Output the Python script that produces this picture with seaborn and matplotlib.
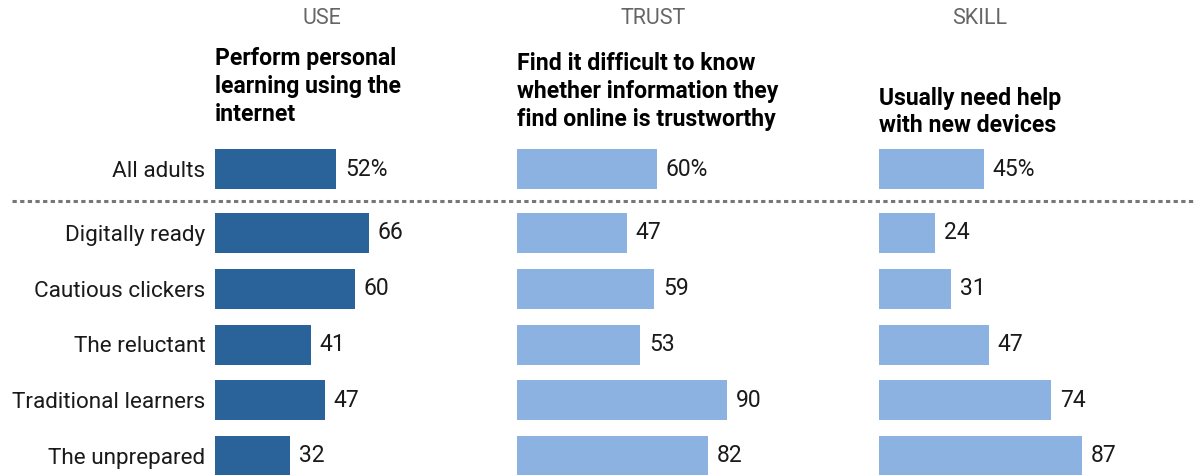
import matplotlib
matplotlib.use("Agg")
import matplotlib.pyplot as plt
import seaborn as sns
import pandas as pd

# ---- data ----
overall_label = "All adults"
groups = ["Digitally ready", "Cautious clickers", "The reluctant",
          "Traditional learners", "The unprepared"]
headers = ["USE", "TRUST", "SKILL"]
titles = ["Perform personal\nlearning using the\ninternet",
          "Find it difficult to know\nwhether information they\nfind online is trustworthy",
          "Usually need help\nwith new devices"]
overall_values = [52, 60, 45]
use_values = [66, 60, 41, 47, 32]
trust_values = [47, 59, 53, 90, 82]
skill_values = [24, 31, 47, 74, 87]
group_values = [use_values, trust_values, skill_values]
colors = ["#2a6399", "#8cb2e1", "#8cb2e1"]

# ---- layout (pixels) ----
W, H = 1197, 475
sns.set_theme(style="white")
plt.rcParams["font.family"] = ["Roboto", "DejaVu Sans"]
fig = plt.figure(figsize=(W / 100, H / 100), dpi=100)

px_per_unit = 2.33
panel_left = [215, 517, 879]
panel_width = 300
row_step = 55.75
bar_frac = 40 / row_step
overall_center = 169
group_first_center = 233
label_fs = 16.2
value_fs = 16.5
header_centers = [322, 653, 980]
title_tops = [47.5, 52.5, 86.5]


def ax_at(left, top, width, height):
    return fig.add_axes([left / W, 1 - (top + height) / H, width / W, height / H])


for i in range(3):
    left = panel_left[i]
    # overall row
    top_o = overall_center - row_step / 2
    ax_o = ax_at(left, top_o, panel_width, row_step)
    df_o = pd.DataFrame({"cat": [overall_label], "val": [overall_values[i]]})
    sns.barplot(data=df_o, x="val", y="cat", orient="h", color=colors[i],
                width=bar_frac, saturation=1, linewidth=0, ax=ax_o)
    # group rows
    top_g = group_first_center - row_step / 2
    ax_g = ax_at(left, top_g, panel_width, row_step * len(groups))
    df_g = pd.DataFrame({"cat": groups, "val": group_values[i]})
    sns.barplot(data=df_g, x="val", y="cat", orient="h", color=colors[i],
                width=bar_frac, saturation=1, linewidth=0, ax=ax_g)

    for ax, fmt in ((ax_o, "{:.0f}%"), (ax_g, "{:.0f}")):
        ax.set_xlim(0, panel_width / px_per_unit)
        for c in ax.containers:
            ax.bar_label(c, labels=[fmt.format(v) for v in c.datavalues],
                         padding=6.5, fontsize=value_fs, color="#1a1a1a")
        ax.set_xlabel("")
        ax.set_ylabel("")
        ax.set_xticks([])
        sns.despine(ax=ax, left=True, bottom=True)
        ax.patch.set_alpha(0)
        if i == 0:
            ax.tick_params(axis="y", length=0, pad=7, labelsize=label_fs,
                           labelcolor="#1a1a1a")
        else:
            ax.set_yticks([])

    # header + title
    fig.text(header_centers[i] / W, 1 - 18 / H, headers[i], ha="center",
             va="center", fontsize=15.5, color="#666666")
    fig.text(left / W, 1 - title_tops[i] / H, titles[i], ha="left", va="top",
             fontsize=16.6, fontweight="bold", color="#000000",
             linespacing=1.27)

# dotted separator
fig.add_artist(plt.Line2D([12 / W, 1195 / W], [1 - 201 / H, 1 - 201 / H],
                          transform=fig.transFigure, color="#777777",
                          linewidth=2.2, linestyle=(0, (1.4, 1.1))))

fig.savefig("out.png", dpi=100)
